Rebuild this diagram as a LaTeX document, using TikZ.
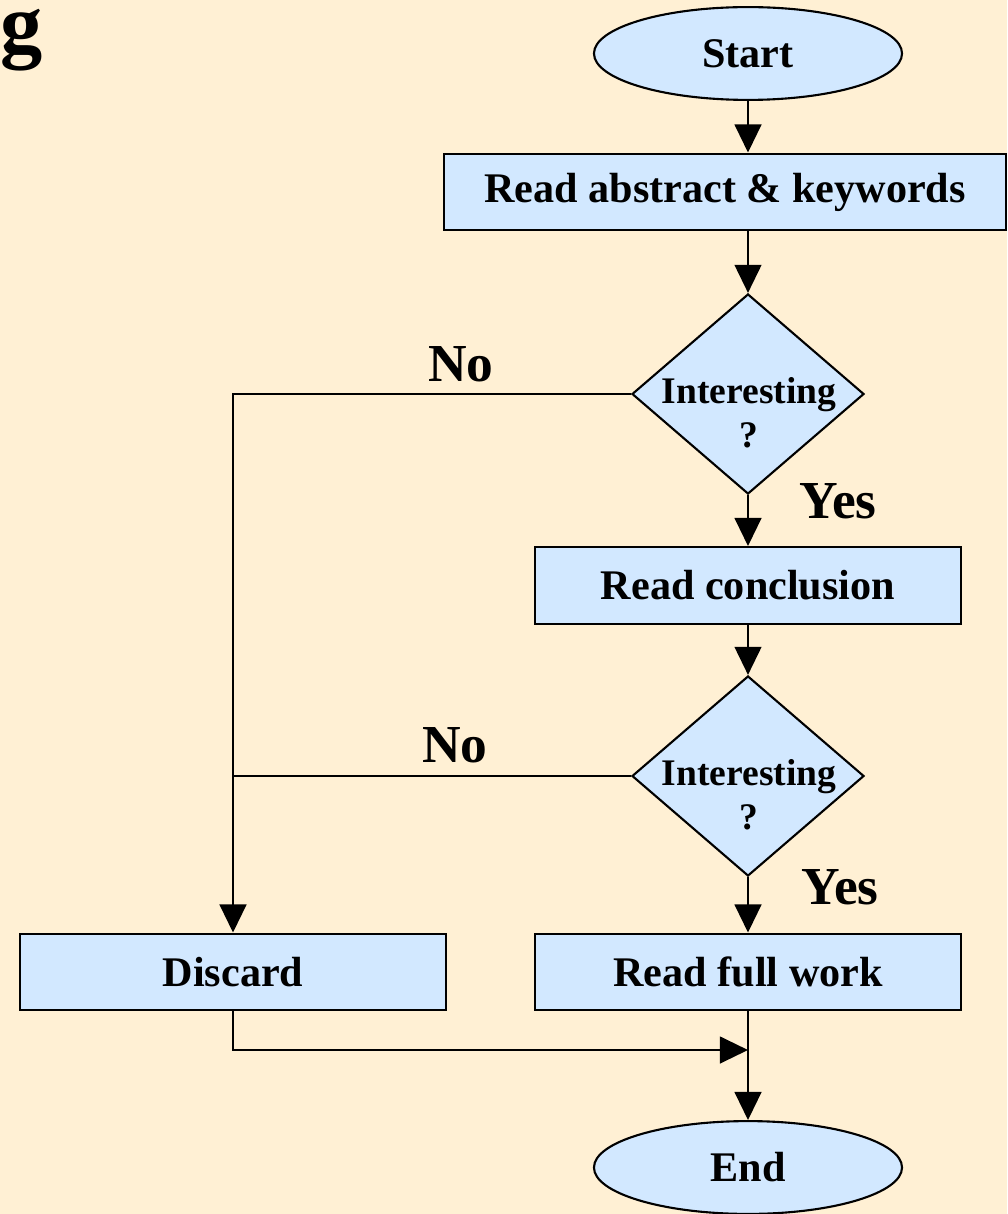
\documentclass[tikz,border=0pt]{standalone}
\usepackage{fontspec}
\setmainfont{Liberation Serif}
\usetikzlibrary{shapes.geometric,arrows.meta}
\definecolor{paper}{RGB}{255,240,212}
\definecolor{boxblue}{RGB}{210,232,255}

\begin{document}
\begin{tikzpicture}[x=0.025cm,y=-0.025cm,
	term/.style={ellipse,draw,fill=boxblue,line width=1.5pt,inner sep=0pt,minimum width=7.7cm,minimum height=2.32cm,font=\fontsize{30}{36}\selectfont\bfseries},
	stepbox/.style={rectangle,draw,fill=boxblue,line width=1.5pt,inner sep=0pt,minimum width=10.65cm,minimum height=1.92cm,font=\fontsize{30}{36}\selectfont\bfseries},
	decide/.style={diamond,draw,fill=boxblue,line width=1.5pt,inner sep=0pt,minimum width=5.8cm,minimum height=5cm},
	qtext/.style={align=center,inner sep=0pt,font=\fontsize{26.7}{31}\selectfont\bfseries},
	answer/.style={anchor=base,inner sep=0pt,font=\fontsize{38}{44}\selectfont\bfseries},
	flow/.style={line width=1.7pt,-{Triangle[length=20pt,width=19pt]}}]
		\useasboundingbox (0,0) rectangle (1007,1214);
		\fill[paper] (0,0) rectangle (1007,1214);
		\node[anchor=base west,inner sep=0pt,text height=1ex,font=\fontsize{60}{70}\selectfont\bfseries] (title) at (0,53) {g};
		
		\node[term] (start) at (748,53.5) {Start};
		\node[stepbox,minimum width=14.05cm] (abstract) at (725,192) {Read abstract \& keywords};
		\node[decide] (q1) at (748,394) {};
		\node[qtext] (q1t) at (749,413) {Interesting\\?};
		\node[stepbox] (conclusion) at (748,585.5) {Read conclusion};
		\node[decide] (q2) at (748,776) {};
		\node[qtext] (q2t) at (749,795) {Interesting\\?};
		\node[stepbox] (full) at (748,972) {Read full work};
		\node[stepbox] (discard) at (233,972) {Discard};
		\node[term] (end) at (748,1167.5) {End};
		\coordinate (merge) at (748,1050);
		
		\node[answer] (no1) at (461,381) {No};
		\node[answer] (yes1) at (838,518) {Yes};
		\node[answer] (no2) at (455,762) {No};
		\node[answer] (yes2) at (840,904) {Yes};
		
		\draw[flow] (start.south) -- (start.south |- abstract.north);
		\draw[flow] (q1.north |- abstract.south) -- (q1.north);
		\draw[flow] (q1.south) -- (conclusion.north);
		\draw[flow] (conclusion.south) -- (q2.north);
		\draw[flow] (q2.south) -- (full.north);
		\draw[flow] (q1.west) -| (discard.north);
		\draw[line width=1pt] (q2.west) -- (q2.west -| discard.north);
		\draw[flow] (discard.south) |- (merge);
		\draw[flow] (full.south) -- (end.north);
	\end{tikzpicture}
\end{document}
